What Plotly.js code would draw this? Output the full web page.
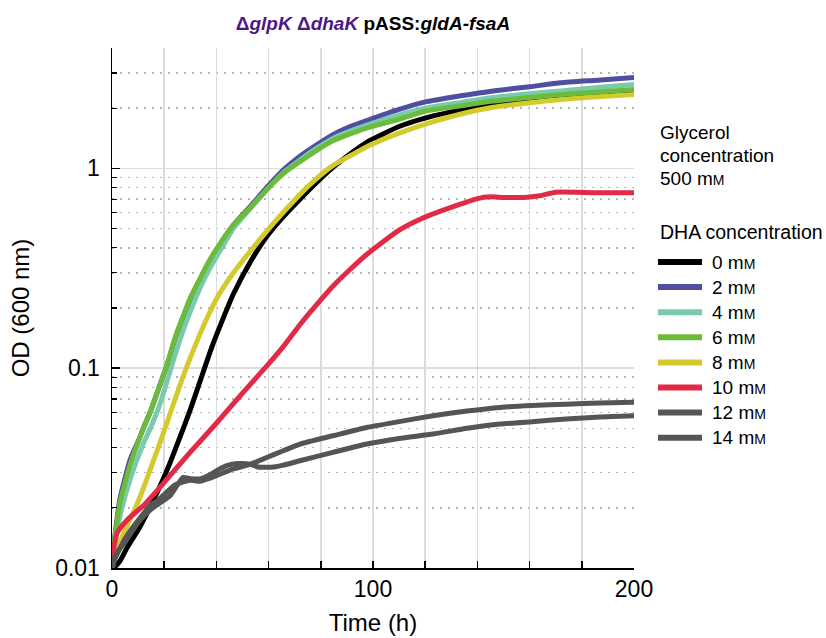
<!DOCTYPE html>
<html>
<head>
<meta charset="utf-8">
<script src="https://cdn.plot.ly/plotly-3.0.1.min.js"></script>
<style>html,body{margin:0;padding:0;background:#fff;}#chart{width:826px;height:638px;}</style>
</head>
<body>
<div id="chart"></div>
<script>
// ---- data (time in h, OD600) ----
const seriesNames = ["0", "2", "4", "6", "8", "10", "12", "14"];
const seriesColors = ["#000000", "#4f4e9f", "#79cbab", "#6cbb3c", "#d3cb2e", "#e12a45", "#555555", "#555555"];

const t_0 = [0,3,6,10,14,18,22,26,30,34,38,42,46.5,53,59,65,72,78,85,92,98,110,121,133,146,160,172,186,200];
const od_0 = [0.0098,0.0108,0.0128,0.0155,0.0195,0.025,0.033,0.045,0.062,0.088,0.125,0.17,0.235,0.34,0.45,0.56,0.70,0.84,1.02,1.2,1.36,1.62,1.8,1.95,2.08,2.2,2.3,2.38,2.45];

const t_2 = [0,3,7,10,12,15,18,21,24,27.3,30,33.7,37,40,46.5,53,60,66,72,78,85,92,98,110,120,133,146,160,172,186,200];
const od_2 = [0.011,0.022,0.035,0.043,0.05,0.062,0.08,0.103,0.138,0.18,0.22,0.277,0.335,0.39,0.52,0.645,0.82,0.99,1.15,1.3,1.48,1.63,1.74,1.97,2.15,2.3,2.44,2.56,2.68,2.76,2.85];

const t_4 = [0,3,7,12,15,18,21,24,27.3,30,33.7,37,40,46.5,53,60,66,72,78,85,92,98,110,120,133,146,160,172,186,200];
const od_4 = [0.011,0.018,0.028,0.042,0.051,0.064,0.085,0.115,0.155,0.192,0.252,0.308,0.36,0.5,0.63,0.8,0.96,1.1,1.25,1.42,1.55,1.65,1.85,2.0,2.13,2.26,2.36,2.44,2.54,2.63];

const t_6 = [0,3,7,12,15,18,21,24,27.3,30,33.7,37,40,46.5,53,60,66,72,78,85,92,98,110,120,133,146,160,172,186,200];
const od_6 = [0.011,0.021,0.033,0.05,0.062,0.08,0.103,0.14,0.183,0.225,0.28,0.34,0.394,0.52,0.635,0.8,0.95,1.08,1.22,1.38,1.5,1.6,1.76,1.93,2.05,2.17,2.26,2.34,2.41,2.48];

const t_8 = [0,3,6,9,12,15,18,21,24,27,30,33.7,37,40,46.5,53,59,65,72,78,85,92,98,110,121,133,146,160,172,186,200];
const od_8 = [0.011,0.0135,0.0165,0.02,0.025,0.032,0.041,0.053,0.069,0.089,0.113,0.148,0.185,0.222,0.30,0.385,0.48,0.59,0.74,0.88,1.04,1.17,1.29,1.5,1.68,1.86,2.02,2.13,2.21,2.28,2.34];

const t_10 = [0,2,6,12,20,30,40,50,60,66,72,78,85,91,97,104,110,116,122,128,134,140,145,150,158,164,170,185,200];
const od_10 = [0.0112,0.015,0.0175,0.0205,0.0268,0.038,0.053,0.075,0.105,0.13,0.165,0.205,0.26,0.31,0.365,0.43,0.49,0.54,0.585,0.625,0.665,0.705,0.72,0.715,0.715,0.73,0.76,0.755,0.755];

const t_12 = [0,1,3,5,8,11,14.6,18,21,24,27.3,30,33.7,37,40,46.5,52.9,59.3,65.6,72,85,97.6,110,123,136,148.7,161,174,187,200];
const od_12 = [0.0095,0.011,0.0125,0.014,0.016,0.018,0.0205,0.022,0.024,0.026,0.027,0.0275,0.0272,0.028,0.029,0.0313,0.033,0.0357,0.0386,0.0417,0.046,0.0505,0.054,0.0578,0.061,0.0636,0.065,0.066,0.067,0.0675];

const t_14 = [0,2,5,8,11,14.6,18,22.2,25,27.3,30,33.7,37,40.1,44,48,52.9,56,59.3,62,65.6,72,85,97.6,110,123,136,148.7,161,174,187,200];
const od_14 = [0.0105,0.012,0.0135,0.0155,0.0175,0.0195,0.021,0.023,0.026,0.0284,0.028,0.0279,0.029,0.0307,0.0325,0.0333,0.0331,0.032,0.0319,0.032,0.0327,0.0344,0.038,0.0417,0.0445,0.0468,0.05,0.0525,0.054,0.0556,0.057,0.0578];

const xTickVals = [0,20,40,60,80,100,120,140,160,180,200];
const xTickText = ["0","","","","","100","","","","","200"];
const yTickVals = [0.01, 0.1, 1];
const yTickText = ["0.01", "0.1", "1"];
const yMinorVals = [0.02,0.03,0.04,0.05,0.06,0.07,0.08,0.09,0.2,0.3,0.4,0.5,0.6,0.7,0.8,0.9,2,3,4];

const glycerolLines = ["Glycerol", "concentration", "500 m<span style=\"font-size:14px\">M</span>"];
const legendTitle = "DHA concentration";

// ---- traces ----
const xs = [t_0, t_2, t_4, t_6, t_8, t_10, t_12, t_14];
const ys = [od_0, od_2, od_4, od_6, od_8, od_10, od_12, od_14];
// drawing order (bottom to top)
const drawOrder = [0, 1, 2, 4, 3, 5, 6, 7];
const traces = drawOrder.map(i => ({
  x: xs[i], y: ys[i], type: "scatter", mode: "lines",
  name: seriesNames[i] + " mM", showlegend: false, hoverinfo: "skip",
  line: {color: seriesColors[i], width: 5, shape: "spline", smoothing: 0.5}
}));

// ---- layout geometry ----
const W = 826, H = 638, ML = 112, MR = 192, MT = 48, MB = 70;
const PW = W - ML - MR, PH = H - MT - MB;
const px2x = p => (p - ML) / PW;
const py2y = p => (H - MB - p) / PH;
const FONT = "Liberation Sans, Arial, Helvetica, sans-serif";

const annotations = [];
const shapes = [];
glycerolLines.forEach((s, k) => annotations.push({
  xref: "paper", yref: "paper", x: px2x(658), y: py2y(132 + 23 * k),
  xanchor: "left", yanchor: "middle", showarrow: false, text: s,
  font: {family: FONT, size: 19, color: "#000"}
}));
annotations.push({
  xref: "paper", yref: "paper", x: px2x(658), y: py2y(232),
  xanchor: "left", yanchor: "middle", showarrow: false, text: legendTitle,
  font: {family: FONT, size: 19.5, color: "#000"}
});
seriesNames.forEach((n, i) => {
  const yy = py2y(262 + 25.1 * i);
  shapes.push({type: "line", xref: "paper", yref: "paper",
    x0: px2x(658), x1: px2x(702), y0: yy, y1: yy,
    line: {color: seriesColors[i], width: 6}});
  annotations.push({xref: "paper", yref: "paper", x: px2x(710), y: yy,
    xanchor: "left", yanchor: "middle", showarrow: false,
    text: n + " m<span style=\"font-size:14px\">M</span>",
    font: {family: FONT, size: 19, color: "#000"}});
});

const layout = {
  width: W, height: H,
  margin: {l: ML, r: MR, t: MT, b: MB},
  paper_bgcolor: "#fff", plot_bgcolor: "#fff",
  showlegend: false,
  font: {family: FONT, color: "#000"},
  title: {
    text: "<b><span style=\"color:#4b1788\">Δ<i>glpK</i> Δ<i>dhaK</i></span> pASS:<i>gldA-fsaA</i></b>",
    font: {family: FONT, size: 19, color: "#000"},
    xref: "paper", x: 0.5, xanchor: "center",
    yref: "container", y: 1 - 23 / H, yanchor: "middle"
  },
  xaxis: {
    range: [0, 200], tickmode: "array", tickvals: xTickVals, ticktext: xTickText,
    ticks: "inside", ticklen: 7, tickwidth: 1.5, tickcolor: "#000",
    showline: true, linecolor: "#000", linewidth: 1.5,
    showgrid: true, gridcolor: "#dcdcdc", gridwidth: 1.5, zeroline: false,
    tickfont: {family: FONT, size: 23, color: "#000"},
    title: {text: "Time (h)", font: {family: FONT, size: 24, color: "#000"}, standoff: 13},
    fixedrange: true
  },
  yaxis: {
    type: "log", range: [-2, Math.log10(4)],
    tickmode: "array", tickvals: yTickVals, ticktext: yTickText,
    ticks: "inside", ticklen: 8, tickwidth: 1.5, tickcolor: "#000",
    showline: true, linecolor: "#000", linewidth: 1.5,
    showgrid: true, gridcolor: "#dcdcdc", gridwidth: 1.5, zeroline: false,
    ticklabelstandoff: 6,
    tickfont: {family: FONT, size: 23, color: "#000"},
    minor: {tickmode: "array", tickvals: yMinorVals, ticks: "inside", ticklen: 5,
      tickwidth: 1.3, tickcolor: "#000", showgrid: true, gridcolor: "#b4b4b4",
      gridwidth: 1.6, griddash: "2px,6px"},
    title: {text: "OD (600 nm)", font: {family: FONT, size: 24, color: "#000"}, standoff: 18},
    fixedrange: true
  },
  annotations: annotations,
  shapes: shapes
};

Plotly.newPlot("chart", traces, layout, {staticPlot: true, displayModeBar: false});
</script>
</body>
</html>
